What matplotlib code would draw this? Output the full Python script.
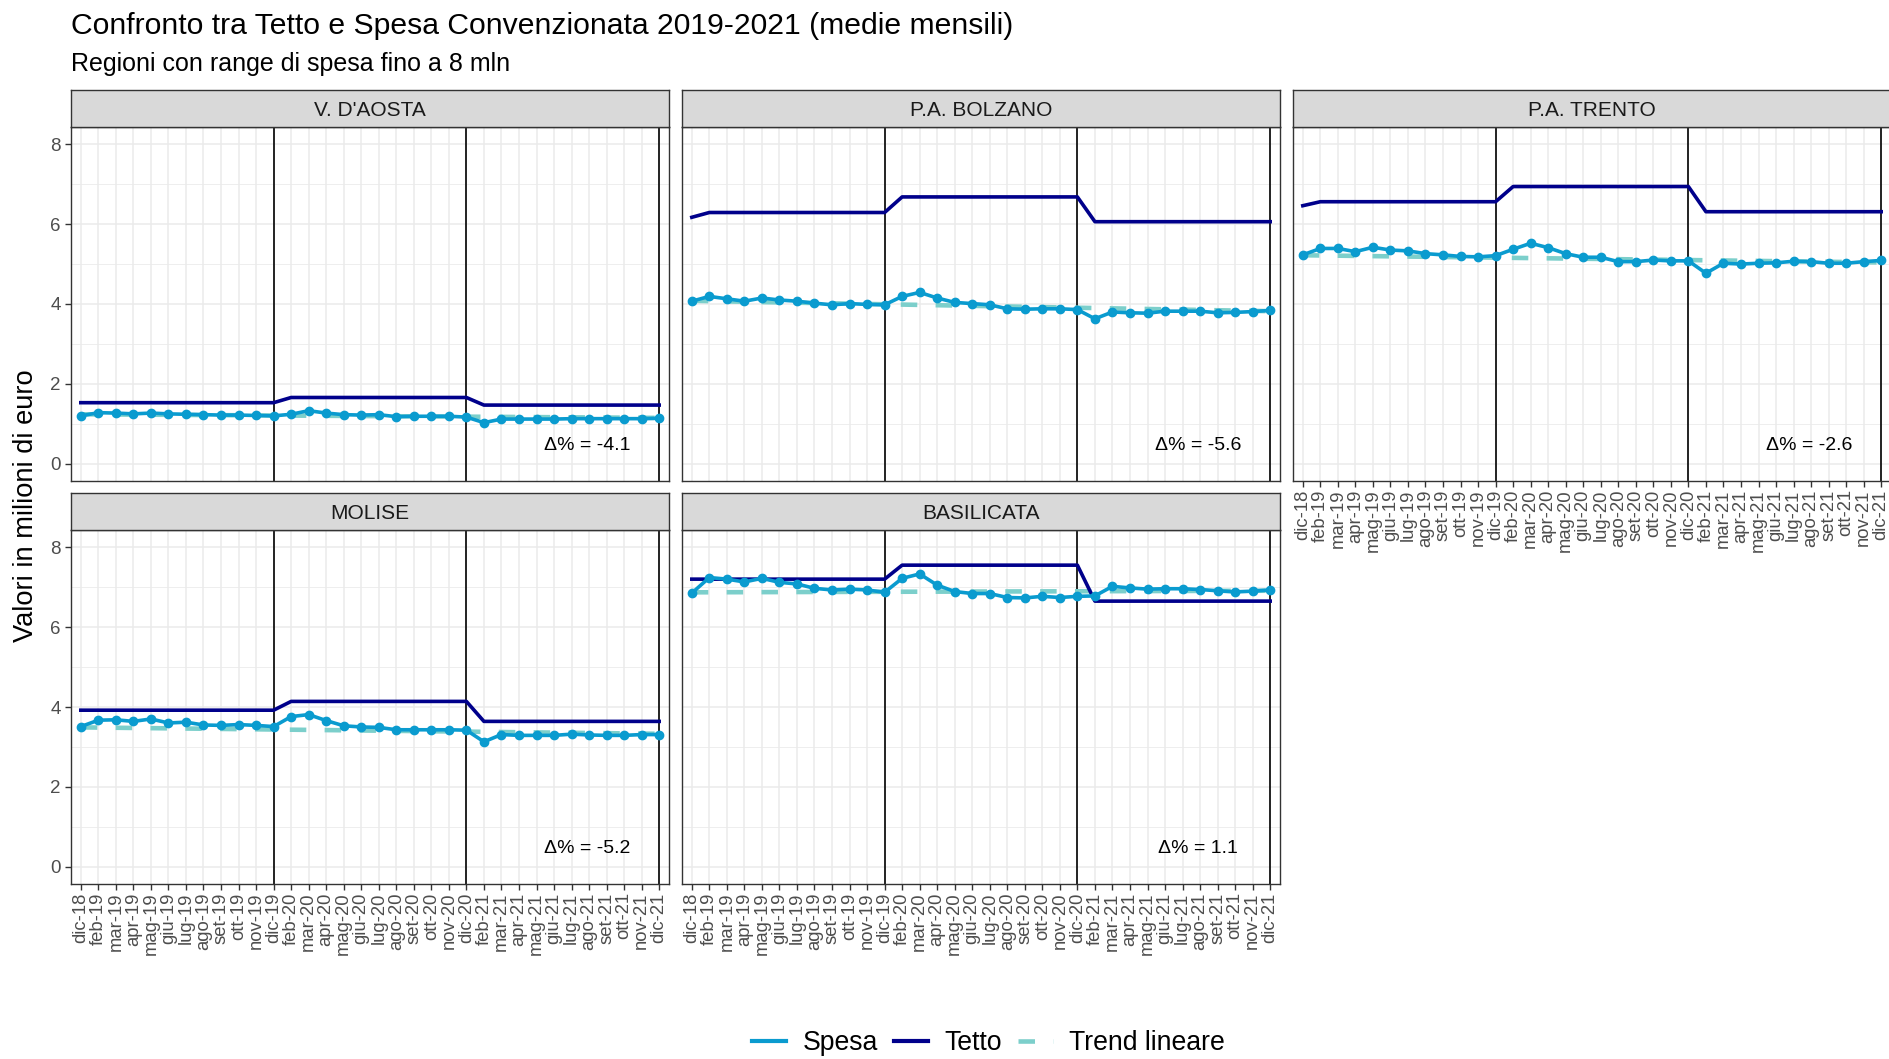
#Import Libraries
import numpy as np
import matplotlib
matplotlib.use("Agg")
from matplotlib import pyplot as plt
from matplotlib.lines import Line2D

plt.rcParams['font.family'] = ['Liberation Sans', 'DejaVu Sans']

# month labels (gen is missing in the original axis)
mesi = ["dic-18", "feb-19", "mar-19", "apr-19", "mag-19", "giu-19", "lug-19", "ago-19",
        "set-19", "ott-19", "nov-19", "dic-19",
        "feb-20", "mar-20", "apr-20", "mag-20", "giu-20", "lug-20", "ago-20",
        "set-20", "ott-20", "nov-20", "dic-20",
        "feb-21", "mar-21", "apr-21", "mag-21", "giu-21", "lug-21", "ago-21",
        "set-21", "ott-21", "nov-21", "dic-21"]

regioni = ["V. D'AOSTA", "P.A. BOLZANO", "P.A. TRENTO", "MOLISE", "BASILICATA"]

# spesa convenzionata (mln euro)
spesa_vda = [1.20, 1.28, 1.27, 1.25, 1.27, 1.25, 1.24, 1.23, 1.22, 1.22, 1.21, 1.20,
             1.24, 1.33, 1.27, 1.23, 1.22, 1.23, 1.18, 1.19, 1.19, 1.19, 1.17,
             1.03, 1.12, 1.12, 1.12, 1.12, 1.13, 1.13, 1.13, 1.13, 1.13, 1.14]
spesa_bz = [4.07, 4.19, 4.13, 4.07, 4.15, 4.10, 4.07, 4.02, 3.98, 4.01, 3.99, 3.98,
            4.19, 4.29, 4.15, 4.04, 4.01, 3.98, 3.88, 3.87, 3.88, 3.88, 3.86,
            3.63, 3.80, 3.78, 3.77, 3.82, 3.82, 3.82, 3.78, 3.79, 3.81, 3.84]
spesa_tn = [5.23, 5.39, 5.39, 5.31, 5.42, 5.35, 5.33, 5.26, 5.23, 5.19, 5.18, 5.21,
            5.37, 5.52, 5.41, 5.26, 5.17, 5.17, 5.06, 5.06, 5.10, 5.08, 5.08,
            4.77, 5.02, 5.00, 5.02, 5.03, 5.07, 5.06, 5.02, 5.02, 5.06, 5.09]
spesa_mol = [3.51, 3.67, 3.68, 3.64, 3.70, 3.60, 3.62, 3.55, 3.54, 3.56, 3.54, 3.51,
             3.76, 3.81, 3.66, 3.53, 3.50, 3.49, 3.43, 3.43, 3.43, 3.43, 3.42,
             3.13, 3.31, 3.29, 3.29, 3.29, 3.32, 3.30, 3.29, 3.29, 3.31, 3.31]
spesa_bas = [6.85, 7.24, 7.20, 7.13, 7.22, 7.12, 7.08, 6.97, 6.93, 6.95, 6.93, 6.87,
             7.22, 7.33, 7.05, 6.89, 6.84, 6.84, 6.74, 6.73, 6.77, 6.74, 6.77,
             6.78, 7.02, 6.98, 6.95, 6.96, 6.96, 6.94, 6.91, 6.88, 6.90, 6.93]

# tetto: value at dic-18, then yearly cap 2019, 2020, 2021
tetto_vda = [1.53, 1.53, 1.66, 1.47]
tetto_bz = [6.17, 6.29, 6.68, 6.06]
tetto_tn = [6.46, 6.56, 6.94, 6.31]
tetto_mol = [3.92, 3.92, 4.14, 3.64]
tetto_bas = [7.20, 7.20, 7.55, 6.65]

# trend lineare: value at first and last month
trend_vda = [1.24, 1.15]
trend_bz = [4.08, 3.82]
trend_tn = [5.22, 5.04]
trend_mol = [3.49, 3.33]
trend_bas = [6.87, 6.91]

delta = ["-4.1", "-5.6", "-2.6", "-5.2", "1.1"]

spese = [spesa_vda, spesa_bz, spesa_tn, spesa_mol, spesa_bas]
tetti = [tetto_vda, tetto_bz, tetto_tn, tetto_mol, tetto_bas]
trends = [trend_vda, trend_bz, trend_tn, trend_mol, trend_bas]

# colours
c_spesa = "#0A9BCF"
c_tetto = "#00008B"
c_trend = "#7CCFCB"

W, H = 1890, 1059
fig = plt.figure(figsize=(W / 100, H / 100), dpi=100)

def px_axes(left, top, width, height):
    return fig.add_axes([left / W, 1 - (top + height) / H, width / W, height / H])

col_left = [71, 682, 1293]
row_top = [127, 530]
pw, ph, sh = 598, 354, 37

x = np.arange(len(mesi))
anni = [11, 22, 33]  # positions of dic-19, dic-20, dic-21

for i, reg in enumerate(regioni):
    r, c = i // 3, i % 3
    ax = px_axes(col_left[c], row_top[r], pw, ph)
    ax.set_xlim(-0.56, len(mesi) - 1 + 0.56)
    ax.set_ylim(-0.43, 8.43)

    # grid
    ax.set_xticks(x)
    ax.set_yticks([0, 2, 4, 6, 8])
    ax.set_yticks([1, 3, 5, 7], minor=True)
    ax.grid(which='major', color='#EBEBEB', linewidth=1.1)
    ax.grid(which='minor', axis='y', color='#EBEBEB', linewidth=0.6)
    ax.set_axisbelow(True)
    for s in ax.spines.values():
        s.set_color('#333333')
        s.set_linewidth(1.0)

    # vertical year separators
    for a in anni:
        ax.axvline(a, color='black', linewidth=1.2, zorder=1.5)

    # trend
    ax.plot([x[0], x[-1]], trends[i], color=c_trend, linewidth=3.3,
            dashes=(3.6, 4.0), zorder=2)
    # tetto
    t = tetti[i]
    tetto = [t[0]] + [t[1]] * 11 + [t[2]] * 11 + [t[3]] * 11
    ax.plot(x, tetto, color=c_tetto, linewidth=2.6, zorder=3)
    # spesa
    ax.plot(x, spese[i], color=c_spesa, linewidth=2.6, marker='o',
            markersize=6, zorder=4)

    ax.text(28.9, 0.45, "\u0394% = " + delta[i], ha='center', va='center',
            fontsize=14, color='black')

    # ticks
    ax.tick_params(axis='both', which='both', colors='#333333', width=1.0,
                   labelcolor='#4D4D4D', labelsize=13.5)
    ax.tick_params(axis='y', which='minor', length=0)
    if c == 0:
        ax.tick_params(axis='y', which='major', length=4)
    else:
        ax.tick_params(axis='y', which='major', length=0, labelleft=False)
    if r == 1 or c == 2:
        ax.set_xticklabels(mesi, rotation=90, fontsize=13.3)
        ax.tick_params(axis='x', length=4, pad=2)
    else:
        ax.tick_params(axis='x', length=0, labelbottom=False)

    # strip
    st = px_axes(col_left[c], row_top[r] - sh, pw, sh)
    st.set_facecolor('#D9D9D9')
    st.set_xticks([])
    st.set_yticks([])
    for s in st.spines.values():
        s.set_color('#333333')
        s.set_linewidth(1.0)
    st.text(0.5, 0.45, reg, ha='center', va='center', fontsize=15,
            color='#1A1A1A', transform=st.transAxes)

# titles
fig.text(71 / W, 1 - 26 / H, "Confronto tra Tetto e Spesa Convenzionata 2019-2021 (medie mensili)",
         fontsize=21.7, va='center', ha='left')
fig.text(71 / W, 1 - 64 / H, "Regioni con range di spesa fino a 8 mln",
         fontsize=18, va='center', ha='left')
fig.text(26 / W, 1 - 506 / H, "Valori in milioni di euro", rotation=90,
         fontsize=19.6, va='center', ha='center')

# legend
handles = [Line2D([], [], color=c_spesa, linewidth=3),
           Line2D([], [], color=c_tetto, linewidth=3),
           Line2D([], [], color=c_trend, linewidth=3.3, dashes=(3.6, 4.0))]
fig.legend(handles, ["Spesa", "Tetto", "Trend lineare"], loc='center',
           bbox_to_anchor=(988 / W, 1 - 1043 / H), ncol=3, frameon=False,
           fontsize=19.2, handlelength=1.3, handletextpad=0.6, columnspacing=0.6)

fig.savefig("out.png", dpi=100)
